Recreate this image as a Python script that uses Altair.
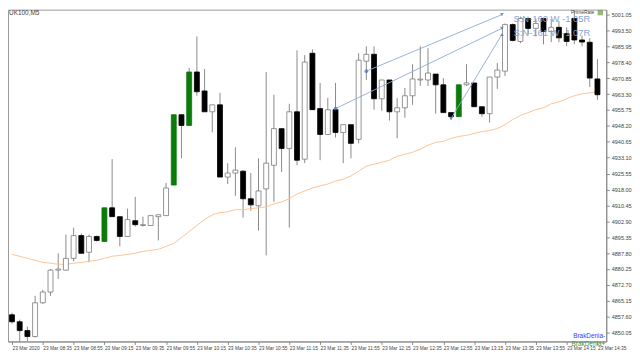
import json
import altair as alt
import pandas as pd

# ---- candle data (UK100, M5, 23 Mar 2020 08:15 .. 14:35) ----
opens = [4858.5, 4855.2, 4851.0, 4848.2, 4864.2, 4869.3, 4879.7, 4879.7, 4885.3, 4896.1,
         4888.2, 4895.7, 4893.3, 4909.3, 4905.1, 4895.7, 4903.2, 4900.9, 4900.9, 4905.1,
         4905.6, 4920.1, 4953.5, 4948.4, 4973.8, 4964.8, 4954.9, 4958.2, 4923.9, 4925.8,
         4926.7, 4913.6, 4910.3, 4918.3, 4929.5, 4946.9, 4937.5, 4954.9, 4932.4, 4982.7,
         4956.4, 4944.1, 4955.9, 4945.1, 4948.8, 4941.8, 4978.9, 4982.2, 4961.1, 4970.0,
         4954.9, 4956.8, 4962.5, 4970.0, 4970.0, 4972.8, 4967.7, 4954.5, 4952.6, 4967.7,
         4968.6, 4957.3, 4954.0, 4971.4, 4974.2, 4996.3, 4988.3, 4999.2, 4994.5, 4999.2,
         4993.0, 4995.0, 4992.1, 4999.2, 4989.0, 4987.9, 4970.5]
highs = [4859.5, 4856.2, 4852.9, 4867.5, 4870.3, 4880.2, 4887.7, 4896.6, 4899.9, 4897.1,
         4896.6, 4896.1, 4909.3, 4932.4, 4905.1, 4908.9, 4914.5, 4905.1, 4905.6, 4906.0,
         4921.1, 4953.5, 4953.5, 4975.7, 4990.7, 4975.2, 4958.2, 4963.9, 4930.5, 4938.0,
         4927.2, 4925.8, 4932.8, 4973.8, 4963.0, 4946.9, 4958.7, 4984.1, 4981.8, 4984.6,
         4968.6, 4961.5, 4968.6, 4948.8, 4948.8, 4982.7, 4986.0, 4986.0, 4970.0, 4970.0,
         4961.5, 4966.2, 4977.5, 4986.0, 4985.1, 4972.8, 4970.9, 4954.5, 4967.7, 4977.5,
         4968.6, 4957.3, 4971.4, 4978.0, 4996.8, 4996.8, 5000.1, 4999.2, 4999.2, 4999.2,
         4999.0, 4998.0, 4995.0, 5003.0, 4991.0, 4989.8, 4979.9]
lows = [4854.3, 4845.8, 4846.0, 4847.7, 4863.7, 4867.5, 4875.5, 4879.7, 4883.9, 4887.7,
        4883.4, 4893.3, 4893.3, 4905.1, 4891.0, 4895.7, 4900.4, 4900.4, 4900.9, 4893.8,
        4905.6, 4920.1, 4932.8, 4948.4, 4962.5, 4954.9, 4945.1, 4923.9, 4920.6, 4915.0,
        4904.6, 4907.9, 4898.5, 4886.7, 4912.1, 4926.3, 4899.9, 4929.5, 4930.5, 4955.9,
        4931.9, 4944.1, 4942.7, 4930.5, 4932.8, 4939.9, 4970.0, 4955.9, 4955.4, 4950.7,
        4942.3, 4952.1, 4958.2, 4967.2, 4967.2, 4954.0, 4954.5, 4951.2, 4952.6, 4967.2,
        4957.3, 4952.6, 4949.8, 4965.8, 4971.9, 4988.3, 4987.4, 4991.6, 4990.7, 4986.9,
        4988.0, 4988.0, 4986.0, 4987.0, 4986.0, 4966.7, 4960.6]
closes = [4855.2, 4851.0, 4848.2, 4864.2, 4869.3, 4879.7, 4880.2, 4885.3, 4896.1, 4887.7,
          4895.7, 4893.8, 4909.3, 4905.1, 4895.7, 4903.7, 4901.3, 4901.3, 4905.6, 4906.0,
          4918.7, 4953.5, 4948.4, 4973.8, 4964.4, 4954.9, 4958.2, 4923.9, 4925.8, 4927.2,
          4913.6, 4910.7, 4917.3, 4930.5, 4946.9, 4937.5, 4954.9, 4931.9, 4978.5, 4955.9,
          4944.1, 4955.9, 4945.1, 4948.8, 4939.9, 4979.4, 4982.2, 4961.1, 4970.0, 4954.9,
          4956.8, 4962.5, 4970.5, 4970.4, 4973.3, 4967.7, 4954.5, 4952.6, 4967.7, 4968.6,
          4957.3, 4954.0, 4971.4, 4974.7, 4996.3, 4988.8, 4999.2, 4994.5, 4996.8, 4993.0,
          4995.0, 4990.0, 4988.3, 4989.0, 4988.0, 4970.9, 4963.0]
green_bars = [12, 21, 23, 58]

ma_values = [4887.2, 4886.3, 4885.3, 4884.4, 4883.4, 4883.0, 4882.5, 4882.5, 4883.0, 4883.4,
             4883.9, 4884.4, 4885.3, 4886.3, 4886.7, 4887.2, 4887.7, 4888.6, 4889.1, 4889.6,
             4891.0, 4892.4, 4895.2, 4898.0, 4900.9, 4903.7, 4906.0, 4907.0, 4907.4, 4908.4,
             4908.4, 4908.9, 4909.3, 4909.8, 4911.2, 4912.1, 4913.6, 4915.9, 4917.3, 4918.7,
             4919.7, 4920.6, 4922.0, 4922.9, 4924.4, 4926.7, 4929.1, 4930.0, 4930.9, 4931.9,
             4933.8, 4934.7, 4935.7, 4937.1, 4939.0, 4940.4, 4940.8, 4942.3, 4943.2, 4943.7,
             4944.6, 4945.5, 4946.0, 4946.9, 4948.8, 4951.2, 4953.1, 4954.5, 4955.9, 4956.8,
             4958.7, 4959.6, 4961.1, 4962.5, 4963.4, 4963.9, 4964.4]

# trend-line annotations (bar index, price)
line_names = ["A", "A", "B", "B", "C", "C"]
line_bar = [42, 63.6, 46, 63.6, 57, 63.6]
line_price = [4956.4, 4994.5, 4974.2, 5001.05, 4951.7, 4991.6]
line_end_shape = ["circle", "triangle-down", "circle", "triangle-down", "triangle-down", "triangle-up"]

note_texts = ["S:N-160   W -1.05R", "S:N-161   W -1.07R"]
note_bar = [65.1, 65.1]
note_price = [4998.8, 4992.3]

time_labels = ["23 Mar 2020", "23 Mar 08:35", "23 Mar 08:55", "23 Mar 09:15", "23 Mar 09:35",
               "23 Mar 09:55", "23 Mar 10:15", "23 Mar 10:35", "23 Mar 10:55", "23 Mar 11:15",
               "23 Mar 11:35", "23 Mar 11:55", "23 Mar 12:15", "23 Mar 12:35", "23 Mar 12:55",
               "23 Mar 13:15", "23 Mar 13:35", "23 Mar 13:55", "23 Mar 14:15", "23 Mar 14:35"]
time_ticks = [0, 4, 8, 12, 16, 20, 24, 28, 32, 36, 40, 44, 48, 52, 56, 60, 64, 68, 72, 76]
price_ticks = [4850.05, 4857.60, 4865.15, 4872.70, 4880.25, 4887.80, 4895.35, 4902.90,
               4910.45, 4918.00, 4925.55, 4933.10, 4940.65, 4948.20, 4955.75, 4963.30,
               4970.85, 4978.40, 4985.95, 4993.50, 5001.05]

X_DOMAIN = [0.125, 76.5]
Y_DOMAIN = [4845.85, 5003.4]
W, H = 604, 335

kinds = []
for i, (o, c) in enumerate(zip(opens, closes)):
    if i in green_bars:
        kinds.append("green")
    elif c >= o:
        kinds.append("bull")
    else:
        kinds.append("bear")

df = pd.DataFrame({"i": list(range(len(opens))), "open": opens, "high": highs,
                   "low": lows, "close": closes, "kind": kinds})
ma_df = pd.DataFrame({"i": list(range(len(ma_values))), "ma": ma_values})
lines_df = pd.DataFrame({"name": line_names, "i": line_bar, "p": line_price, "shape": line_end_shape})
notes_df = pd.DataFrame({"t": note_texts, "i": note_bar, "p": note_price})

label_expr = json.dumps(time_labels) + "[round(datum.value / 4)]"

xs = alt.Scale(domain=X_DOMAIN, nice=False, zero=False)
ys = alt.Scale(domain=Y_DOMAIN, nice=False, zero=False)

x_axis = alt.Axis(values=time_ticks, labelExpr=label_expr, title=None, grid=False,
                  tickSize=3, labelAlign="left", labelPadding=1, labelFontSize=4.9,
                  labelColor="#444", labelOverlap=False, labelFlush=False,
                  domainColor="#888", tickColor="#888", labelFont="Liberation Sans")
y_axis = alt.Axis(values=price_ticks, format=".2f", orient="right", title=None, grid=False,
                  tickSize=3, labelPadding=2, labelFontSize=5.6, labelColor="#444",
                  domainColor="#888", tickColor="#888", labelFont="Liberation Sans",
                  labelOverlap=False, labelFlush=False)


def X(field):
    return alt.X(field, scale=xs, axis=x_axis)


def Y(field):
    return alt.Y(field, scale=ys, axis=y_axis)


base = alt.Chart(df)

wicks = base.mark_rule(color="#8a8a8a", strokeWidth=1, clip=True).encode(
    x=X("i:Q"), y=Y("low:Q"), y2="high:Q")

bodies = base.mark_bar(size=5, strokeWidth=0.8, clip=True).encode(
    x=X("i:Q"), y=Y("open:Q"), y2="close:Q",
    fill=alt.Fill("kind:N", scale=alt.Scale(domain=["bull", "bear", "green"],
                                              range=["#ffffff", "#000000", "#0a7a0a"]), legend=None),
    stroke=alt.Stroke("kind:N", scale=alt.Scale(domain=["bull", "bear", "green"],
                                                  range=["#7a7a7a", "#000000", "#0a7a0a"]), legend=None),
)

ma_line = alt.Chart(ma_df).mark_line(color="#ffc294", strokeWidth=1, clip=True).encode(
    x=X("i:Q"), y=Y("ma:Q"))

tlines = alt.Chart(lines_df).mark_line(color="#8fa9d4", strokeWidth=0.9, clip=True).encode(
    x=X("i:Q"), y=Y("p:Q"), detail="name:N")

tpoints = alt.Chart(lines_df).mark_point(filled=True, size=14, color="#3b72c4", clip=True).encode(
    x=X("i:Q"), y=Y("p:Q"), shape=alt.Shape("shape:N", scale=None))

notes = alt.Chart(notes_df).mark_text(align="left", baseline="middle", fontSize=9.5,
                                      font="Liberation Sans", color="#7f9fd0", opacity=0.95).encode(
    x=X("i:Q"), y=Y("p:Q"), text="t:N")

corner = pd.DataFrame({"t": ["UK100,M5"]})
symbol_txt = alt.Chart(corner).mark_text(align="left", baseline="top", fontSize=6.5,
                                         font="Liberation Sans", color="#444").encode(
    x=alt.value(1), y=alt.value(0), text="t:N")

broker = pd.DataFrame({"t": ["PrimeRate"]})
broker_txt = alt.Chart(broker).mark_text(align="right", baseline="top", fontSize=5,
                                         font="Liberation Sans", color="#444").encode(
    x=alt.value(W - 12), y=alt.value(0), text="t:N")
broker_icon = alt.Chart(broker).mark_square(size=30, color="#7aa65a", opacity=0.8).encode(
    x=alt.value(W - 6), y=alt.value(3))

legend_minus = alt.Chart(pd.DataFrame({"t": ["BrakDenia-"]})).mark_text(
    align="right", baseline="middle", fontSize=6.5, font="Liberation Sans", color="#3a3aff").encode(
    x=alt.value(W - 1), y=alt.value(H - 5), text="t:N")
legend_plus = alt.Chart(pd.DataFrame({"t": ["BrakDenia+"]})).mark_text(
    align="right", baseline="middle", fontSize=6.5, font="Liberation Sans", color="#3c9a3c").encode(
    x=alt.value(W - 1), y=alt.value(H + 3), text="t:N")

chart = alt.layer(wicks, ma_line, bodies, tlines, tpoints, notes, symbol_txt, broker_txt,
                  broker_icon, legend_minus, legend_plus).properties(
    width=W, height=H, background="white", padding=0
).configure_view(stroke="#999", strokeWidth=1)

chart.save("out.html", embed_options={"renderer": "svg", "actions": False})
